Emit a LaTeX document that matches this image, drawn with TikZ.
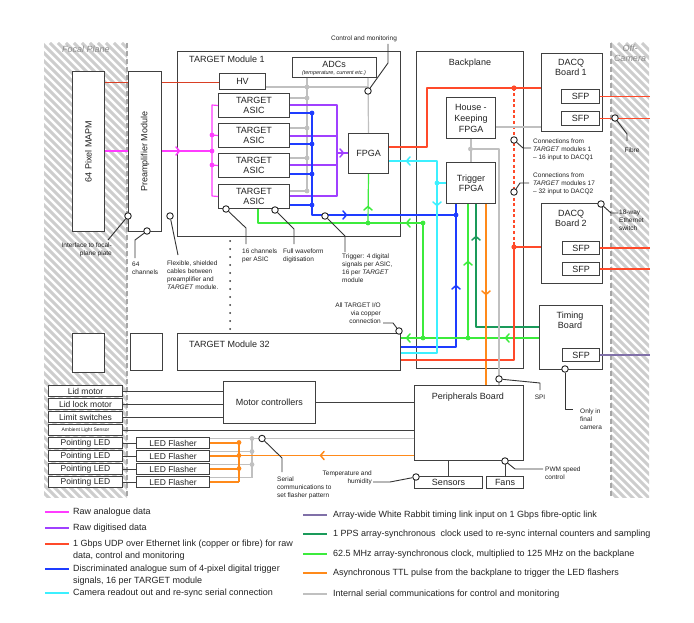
\documentclass[tikz,border=0pt]{standalone}
\usepackage{fontspec}
\setmainfont{Liberation Sans}
\newcommand\fnt[2]{\fontsize{#1}{#2}\selectfont}
\definecolor{cMag}{HTML}{FF3CFF}
\definecolor{cPur}{HTML}{A040FF}
\definecolor{cRed}{HTML}{FF4A2A}
\definecolor{cBlue}{HTML}{1E3CFF}
\definecolor{cCyan}{HTML}{3CF0FF}
\definecolor{cWR}{HTML}{8070A8}
\definecolor{cDG}{HTML}{1A9A5A}
\definecolor{cGrn}{HTML}{3CEB3C}
\definecolor{cOra}{HTML}{FF8A1A}
\definecolor{cGry}{HTML}{C0C0C0}
\definecolor{cBox}{HTML}{404040}
\definecolor{cHatch}{HTML}{CDCDCD}
\definecolor{txt}{HTML}{222222}
\begin{document}
\begin{tikzpicture}[x=1pt,y=-1pt,
  box/.style={draw=cBox, line width=1pt, fill=white, inner sep=0pt, anchor=north west, align=center, font=\fnt{9}{10}, text=txt},
  lbl/.style={inner sep=0pt, font=\fnt{9}{10}, text=txt, align=center},
  ann/.style={inner sep=0pt, font=\fnt{6.5}{8}, text=txt, align=left, anchor=north west},
  callc/.style={circle, draw=black!85, line width=0.9pt, fill=white, minimum size=6.5pt, inner sep=0pt},
  cl/.style={draw=black!80, line width=0.9pt, line join=round},
  wr/.style={line width=1.2pt, line join=round},
  hatchln/.style={draw=cHatch, line width=3pt},
  bound/.style={draw=black!35, line width=1.5pt, dash pattern=on 5pt off 3pt},
  leg/.style={anchor=west, inner sep=0pt, font=\fnt{9}{11.5}, align=left, text=txt},
  lg/.style={line width=1.5pt},
  chev/.pic={\draw[line width=1.5pt,line cap=round,line join=round] (-2,-4) -- (1.5,0) -- (-2,4);}
]
\useasboundingbox (0,0) rectangle (694,623);
\fill[white] (0,0) rectangle (694,623);

% hatched regions
\begin{scope}
\clip (44,43) rectangle (127,497);
\foreach \i in {-430,-422,...,130} \draw[hatchln] (\i,43) -- ++(460,460);
\end{scope}
\begin{scope}
\clip (611,43) rectangle (649,497);
\foreach \i in {130,138,...,650} \draw[hatchln] (\i,43) -- ++(460,460);
\end{scope}
\draw[bound] (127,43) -- (127,497);
\draw[bound] (611,43) -- (611,497);
\node[inner sep=0pt, font=\fnt{9}{10}\itshape, text=black!45] (fpL) at (86,49) {Focal Plane};
\node[inner sep=0pt, font=\fnt{9}{10}\itshape, text=black!45, align=center] (ocL) at (630,53) {Off-\\Camera};

% container boxes
\node[box,minimum width=32pt,minimum height=160pt] (mapm) at (72,71) {};
\node[rotate=90,lbl] (mapmT) at (mapm.center) {64 Pixel MAPM};
\node[box,minimum width=223pt,minimum height=185pt] (mod1) at (177,51) {};
\node[lbl,anchor=west] (mod1T) at (189,59) {TARGET Module 1};
\node[box,minimum width=107pt,minimum height=317pt] (bp) at (416,51) {};
\node[lbl] (bpT) at (470,63) {Backplane};

% lines passing behind the preamplifier
\draw[line width=0.8pt,cRed!85!black] (mapm.east |- 0,82) -- (219,82);
\draw[wr,cMag] (mapm.east |- 0,151) -- (212,151);

\node[box,minimum width=33pt,minimum height=160pt] (pre) at (128,71) {};
\node[rotate=90,lbl] (preT) at (pre.center) {Preamplifier Module};

% inner boxes
\node[box,minimum width=46pt,minimum height=16pt] (hv) at (219,73) {HV};
\node[box,minimum width=84pt,minimum height=20pt] (adc) at (292,57) {};
\node[lbl] (adcT) at (334,64) {ADCs};
\node[inner sep=0pt,font=\fnt{5.5}{6}\itshape,text=txt] (adcS) at (334,73) {(temperature, current etc.)};
\node[box,minimum width=71pt,minimum height=24pt] (as1) at (218,93) {TARGET\\ASIC};
\node[box,minimum width=71pt,minimum height=24pt] (as2) at (218,123) {TARGET\\ASIC};
\node[box,minimum width=71pt,minimum height=24pt] (as3) at (218,153) {TARGET\\ASIC};
\node[box,minimum width=71pt,minimum height=24pt] (as4) at (218,184) {TARGET\\ASIC};
\node[box,minimum width=40pt,minimum height=40pt] (fpga) at (348,133) {FPGA};
\node[box,minimum width=49pt,minimum height=41pt,font=\fnt{9}{11}] (hk) at (446,97) {House -\\Keeping\\FPGA};
\node[box,minimum width=49pt,minimum height=41pt] (trig) at (446,162) {Trigger\\FPGA};

\node[box,minimum width=61pt,minimum height=78pt] (dq1) at (541,53) {};
\node[lbl] (dq1T) at (571,67) {DACQ\\Board 1};
\node[box,minimum width=38pt,minimum height=14pt] (s1a) at (561,89) {SFP};
\node[box,minimum width=38pt,minimum height=14pt] (s1b) at (561,111) {SFP};
\node[box,minimum width=61pt,minimum height=80pt] (dq2) at (541,203) {};
\node[lbl] (dq2T) at (571,218) {DACQ\\Board 2};
\node[box,minimum width=37pt,minimum height=13pt] (s2a) at (562,241) {SFP};
\node[box,minimum width=37pt,minimum height=13pt] (s2b) at (562,262) {SFP};
\node[box,minimum width=63pt,minimum height=64pt] (tim) at (539,305) {};
\node[lbl] (timT) at (570,320) {Timing\\Board};
\node[box,minimum width=37pt,minimum height=13pt] (sT) at (562,348) {SFP};

\node[box,minimum width=223pt,minimum height=37pt] (mod32) at (177,333) {};
\node[lbl,anchor=west] (mod32T) at (189,344) {TARGET Module 32};
\node[box,minimum width=32pt,minimum height=39pt] (bl1) at (72,333) {};
\node[box,minimum width=32pt,minimum height=37pt] (bl2) at (130,333) {};
\foreach \k in {0,...,11} \fill[black!80] (230,241+8*\k) circle (1pt);

% bottom boxes
\node[box,minimum width=74pt,minimum height=11pt,font=\fnt{8.5}{9}] (lidm) at (48,385) {Lid motor};
\node[box,minimum width=74pt,minimum height=11pt,font=\fnt{8.5}{9}] (lidl) at (48,398) {Lid lock motor};
\node[box,minimum width=74pt,minimum height=11pt,font=\fnt{8.5}{9}] (lims) at (48,411) {Limit switches};
\node[box,minimum width=74pt,minimum height=11pt,font=\fnt{5}{6}] (amb) at (48,424) {Ambient Light Sensor};
\foreach \n/\y in {1/437,2/450,3/463,4/476}{
  \node[box,minimum width=74pt,minimum height=11pt,font=\fnt{8.5}{9}] (pl\n) at (48,\y) {Pointing LED};
  \node[box,minimum width=73pt,minimum height=11pt,font=\fnt{8.5}{9}] (lf\n) at (136,\y) {LED Flasher};
  \draw[line width=0.8pt,cBox] (pl\n.east) -- (lf\n.west);
}
\node[box,minimum width=92pt,minimum height=42pt] (motor) at (223,381) {Motor controllers};
\node[box,minimum width=109pt,minimum height=75pt] (per) at (414,385) {};
\node[lbl] (perT) at (468,397) {Peripherals Board};
\node[box,minimum width=68pt,minimum height=12pt] (sens) at (414,476) {Sensors};
\node[box,minimum width=37pt,minimum height=12pt] (fans) at (486,476) {Fans};

% ---------- wires inside module 1 ----------
% magenta bus
\draw[wr,cMag] (as1.west) -- (212,105) -- (212,196) -- (as4.west);
\draw[wr,cMag] (212,135) -- (as2.west);
\draw[wr,cMag] (212,165) -- (as3.west);
\foreach \y in {135,151,165} \fill[cMag] (212,\y) circle (2.4pt);
\pic[cMag] at (178,151) {chev};
% grey
\draw[wr,cGry] (hv.east |- 0,87) -- (368,87);
\draw[wr,cGry] (adc.south -| 307,0) -- (307,191);
\draw[wr,cGry] (adc.south -| 368,0) -- (fpga.north);
\foreach \y in {98,128,158,191} \draw[wr,cGry] (as1.east |- 0,\y) -- (307,\y);
\foreach \y in {87,98,128,158,191} \fill[cGry] (307,\y) circle (2.4pt);
% purple
\draw[wr,cPur] (as1.east |- 0,105) -- (337,105) -- (337,196) -- (as4.east |- 0,196);
\draw[wr,cPur] (as2.east |- 0,136) -- (337,136);
\draw[wr,cPur] (as3.east |- 0,165) -- (337,165);
\draw[wr,cPur] (337,153) -- (fpga.west |- 0,153);
\pic[cPur] at (342,153) {chev};
% blue
\foreach \y in {113,144,174,205} \draw[wr,cBlue] (as1.east |- 0,\y) -- (312,\y);
\draw[wr,cBlue] (312,113) -- (312,215) -- (456,215);
\foreach \y in {113,144,174,205} \fill[cBlue] (312,\y) circle (2.4pt);
\fill[cBlue] (456,215) circle (2.4pt);
\pic[cBlue] at (345,215) {chev};
\draw[wr,cBlue] (trig.south -| 456,0) -- (456,347) -- (mod32.east |- 0,347);
\pic[cBlue,rotate=90] at (456,287) {chev};
% green
\draw[wr,cGrn] (as4.south -| 258,0) -- (258,223) -- (423,223) -- (423,338);
\draw[wr,cGrn] (fpga.south) -- (368,223);
\draw[wr,cGrn] (tim.west |- 0,338) -- (mod32.east |- 0,338);
\draw[wr,cGrn] (trig.south -| 468,0) -- (468,338);
\foreach \p in {(368,223),(423,223),(423,338),(468,338)} \fill[cGrn] \p circle (2.4pt);
\pic[cGrn,rotate=90] at (368,208) {chev};
\pic[cGrn,rotate=180] at (408,223) {chev};
\pic[cGrn,rotate=180] at (507,338) {chev};
\pic[cGrn,rotate=180] at (408,338) {chev};
\pic[cGrn,rotate=90] at (468,263) {chev};
% dark green
\draw[wr,cDG] (trig.south -| 476,0) -- (476,327) -- (tim.west |- 0,327);
\pic[cDG,rotate=90] at (476,238) {chev};
% orange backplane
\draw[wr,cOra] (trig.south -| 486,0) -- (per.north -| 486,0);
\pic[cOra,rotate=-90] at (486,293) {chev};
% cyan
\draw[wr,cCyan] (fpga.east |- 0,161) -- (437,161) -- (437,353) -- (mod32.east |- 0,353);
\draw[wr,cCyan] (437,183) -- (trig.west |- 0,183);
\fill[cCyan] (437,183) circle (2.4pt);
\pic[cCyan,rotate=180] at (408,161) {chev};
\pic[cCyan,rotate=-90] at (437,204) {chev};
% red
\draw[wr,cRed] (fpga.east |- 0,147) -- (427,147) -- (427,88) -- (dq1.west |- 0,88);
\draw[wr,cRed,dash pattern=on 3pt off 2.5pt] (514,88) -- (514,247);
\draw[wr,cRed] (dq2.west |- 0,247) -- (514,247) -- (514,360) -- (mod32.east |- 0,360);
\fill[cRed] (514,88) circle (2.6pt);
\fill[cRed] (514,247) circle (2.6pt);
\draw[wr,cRed] (s1a.east) -- ++(50,0);
\draw[wr,cRed] (s1b.east) -- ++(50,0);
\draw[wr,cRed] (s2a.east) -- ++(50,0);
\draw[wr,cRed] (s2b.east) -- ++(50,0);
% grey backplane
\draw[wr,cGry] (hk.east |- 0,127) -- (dq1.west |- 0,127);
\draw[wr,cGry] (hk.south) -- (trig.north);
\draw[wr,cGry] (470.5,149) -- (499,149) -- (per.north -| 499,0);
\fill[cGry] (470.5,149) circle (2.4pt);
% white rabbit
\draw[wr,cWR] (sT.east) -- ++(50,0);

% ---------- bottom wiring ----------
\draw[line width=0.8pt,cBox] (lidm.east) -- (motor.west |- lidm.east);
\draw[line width=0.8pt,cBox] (lidl.east) -- (motor.west |- lidl.east);
\draw[line width=0.8pt,cBox] (lims.east) -- (motor.west |- lims.east);
\draw[line width=0.8pt,cBox] (motor.east) -- (per.west |- motor.east);
\draw[line width=0.8pt,cBox] (amb.east) -- (per.west |- amb.east);
\foreach \y in {438.5,451.5,464.5,477.5} \draw[wr,cGry] (lf1.east |- 0,\y) -- (252,\y);
\draw[wr,cGry] (252,438.5) -- (252,477.5);
\draw[wr,cGry] (252,438.5) -- (per.west |- 0,438.5);
\foreach \y in {438.5,451.5,464.5} \fill[cGry] (252,\y) circle (2.4pt);
\foreach \n in {1,...,4} \draw[wr,cOra] (lf\n.east) -- (239,0 |- lf\n.east);
\draw[wr,cOra] (239,442.5) -- (239,481.5);
\draw[wr,cOra] (239,455.5) -- (per.west |- 0,455.5);
\foreach \y in {442.5,455.5,468.5} \fill[cOra] (239,\y) circle (2.4pt);
\pic[cOra,rotate=180] at (322,455.5) {chev};
\draw[line width=0.8pt,cBox] (per.south -| sens.north) -- (sens.north);
\draw[line width=0.8pt,cBox] (per.south -| fans.north) -- (fans.north);

% ---------- callouts ----------
\node[callc] (cI) at (128,216) {};
\draw[cl] (cI) -- (108,240);
\node[ann,anchor=north east,align=right] (tI) at (112,243) {Interface to focal-\\plane plate};
\node[callc] (cC) at (147,231) {};
\draw[cl] (cC) -- (135,240) -- (135,258);
\node[ann] (tC) at (132,262) {64\\channels};
\node[callc] (cF) at (170,216) {};
\draw[cl] (cF) -- (178,255);
\node[ann] (tF) at (167,261) {Flexible, shielded\\cables between\\preamplifier and\\\textit{TARGET} module.};
\node[callc] (c16) at (226,209) {};
\draw[cl] (c16) -- (246,228) -- (246,244);
\node[ann] (t16) at (242,249) {16 channels\\per ASIC};
\node[callc] (cW) at (275,210) {};
\draw[cl] (cW) -- (294,229) -- (294,244);
\node[ann] (tW) at (283,249) {Full waveform\\digitisation};
\node[callc] (cT) at (325,216) {};
\draw[cl] (cT) -- (345,236) -- (345,252);
\node[ann] (tT) at (342,254) {Trigger: 4 digital\\signals per ASIC,\\16 per \textit{TARGET}\\module};
\node[callc] (cA) at (399,331) {};
\draw[cl] (cA) -- (393,323) -- (383,323);
\node[ann,anchor=north east,align=right] (tA) at (381,303) {All TARGET I/O\\via copper\\connection};
\node[callc] (cM) at (368,91) {};
\draw[cl] (cM) -- (388,63) -- (388,44);
\node[ann,anchor=center] (tM) at (364,39) {Control and monitoring};
\node[callc] (cC1) at (514,140) {};
\draw[cl] (cC1) -- (523,148) -- (531,148);
\node[ann] (tC1) at (533,139) {Connections from\\\textit{TARGET} modules 1\\– 16 input to DACQ1};
\node[callc] (cC2) at (514,192) {};
\draw[cl] (cC2) -- (520,183) -- (529,183);
\node[ann] (tC2) at (533,173) {Connections from\\\textit{TARGET} modules 17\\– 32 input to DACQ2};
\node[callc] (cFb) at (615,118) {};
\draw[cl] (cFb) -- (627,134) -- (627,141);
\node[ann,anchor=center] (tFb) at (632,150) {Fibre};
\node[callc] (cE) at (601,204) {};
\draw[cl] (cE) -- (611,213) -- (618,213);
\node[ann] (tE) at (619,210) {18-way\\Ethernet\\switch};
\node[callc] (cS) at (499,379) {};
\draw[cl] (cS) -- (540,383) -- (540,390);
\node[ann,anchor=center] (tS) at (540,397) {SPI};
\node[callc] (cO) at (565,369) {};
\draw[cl] (cO) -- (565,409) -- (573,409);
\node[ann] (tO) at (580,409) {Only in\\final\\camera};
\node[callc] (cSe) at (262,438.5) {};
\draw[cl] (cSe) -- (282,458) -- (282,472);
\node[ann] (tSe) at (277,477) {Serial\\communications to\\set flasher pattern};
\node[callc] (cTe) at (416,477) {};
\draw[cl] (cTe) -- (390,482) -- (373,482);
\node[ann,anchor=north east,align=right] (tTe) at (372,471) {Temperature and\\humidity};
\node[callc] (cP) at (505,461) {};
\draw[cl] (cP) -- (515,469) -- (543,469);
\node[ann] (tP) at (545,467) {PWM speed\\control};

% ---------- legend ----------
\draw[lg,cMag] (45,512) -- (69,512);
\node[leg] (l1) at (73,512) {Raw analogue data};
\draw[lg,cPur] (45,528) -- (69,528);
\node[leg] (l2) at (73,528) {Raw digitised data};
\draw[lg,cRed] (45,544) -- (69,544);
\node[leg] (l3) at (73,550) {1 Gbps UDP over Ethernet link (copper or fibre) for raw\\data, control and monitoring};
\draw[lg,cBlue] (45,569) -- (69,569);
\node[leg] (l4) at (73,575) {Discriminated analogue sum of 4-pixel digital trigger\\signals, 16 per TARGET module};
\draw[lg,cCyan] (45,593) -- (69,593);
\node[leg] (l5) at (73,593) {Camera readout out and re-sync serial connection};
\draw[lg,cWR] (303,515) -- (327,515);
\node[leg] (r1) at (333,515) {Array-wide White Rabbit timing link input on 1 Gbps fibre-optic link};
\draw[lg,cDG] (303,534) -- (327,534);
\node[leg] (r2) at (333,534) {1 PPS array-synchronous\ \ clock used to re-sync internal counters and sampling};
\draw[lg,cGrn] (303,554) -- (327,554);
\node[leg] (r3) at (333,554) {62.5 MHz array-synchronous clock, multiplied to 125 MHz on the backplane};
\draw[lg,cOra] (303,573) -- (327,573);
\node[leg] (r4) at (333,573) {Asynchronous TTL pulse from the backplane to trigger the LED flashers};
\draw[lg,cGry] (303,594) -- (327,594);
\node[leg] (r5) at (333,594) {Internal serial communications for control and monitoring};
\end{tikzpicture}
\end{document}
